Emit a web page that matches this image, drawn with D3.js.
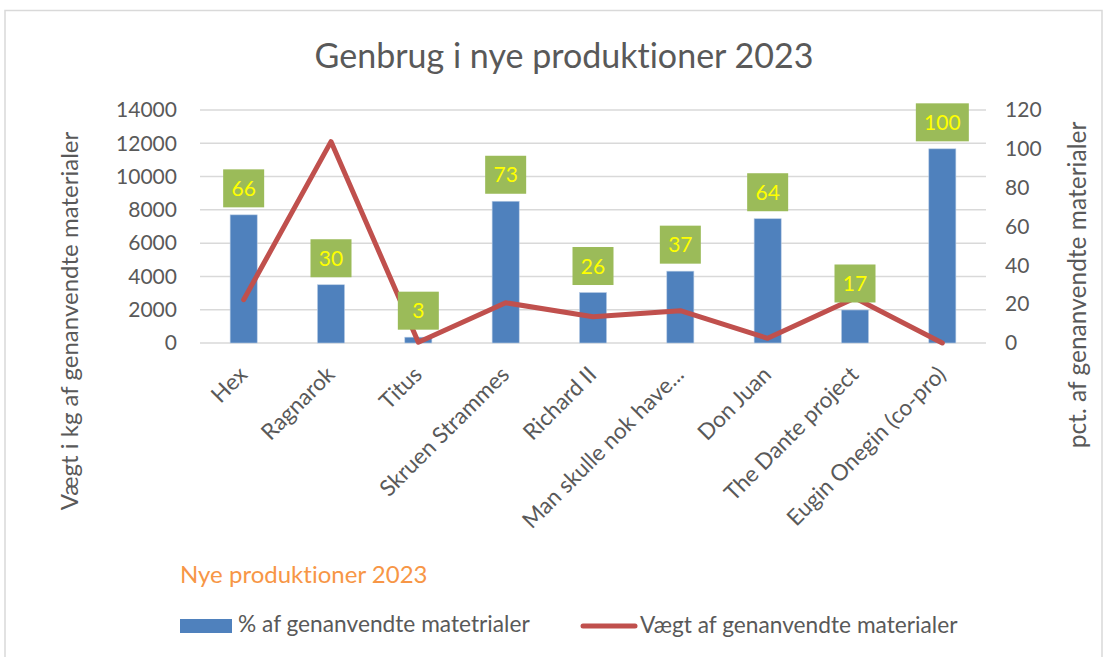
<!DOCTYPE html>
<html><head><meta charset="utf-8">
<script src="https://cdn.jsdelivr.net/npm/d3@7"></script>
<style>body{margin:0;background:#fff;}svg{display:block;font-family:Lato,"Open Sans",sans-serif;}svg text{font-variant-ligatures:none;font-feature-settings:"liga" 0,"clig" 0,"dlig" 0;letter-spacing:0.01px;}</style>
</head><body>
<svg id="c" width="1105" height="657"></svg>
<script>
const categories = ["Hex","Ragnarok","Titus","Skruen Strammes","Richard II","Man skulle nok have...","Don Juan","The Dante project","Eugin Onegin (co-pro)"];
const pctValues = [66,30,3,73,26,37,64,17,100];
const weightValues = [2600,12100,50,2420,1580,1940,280,2700,0];
const leftTicks = [0,2000,4000,6000,8000,10000,12000,14000];
const rightTicks = [0,20,40,60,80,100,120];
const title = "Genbrug i nye produktioner 2023";
const leftTitle = "Vægt i kg af genanvendte materialer";
const rightTitle = "pct. af genanvendte materialer";
const legendTitle = "Nye produktioner 2023";
const barName = "% af genanvendte matetrialer";
const lineName = "Vægt af genanvendte materialer";

const svg = d3.select("#c");
const L=200, R=986, T=110, B=343;
const grey="#595959";
const FF="Lato,'Open Sans',sans-serif";

svg.append("rect").attr("x",5).attr("y",10.5).attr("width",1097).attr("height",660)
  .attr("fill","#fff").attr("stroke","#D9D9D9").attr("stroke-width",1.5);

const x = d3.scaleBand().domain(categories).range([L,R]).paddingInner(0.69).paddingOuter(0.345);
const yL = d3.scaleLinear().domain([0,14000]).range([B,T]);
const yR = d3.scaleLinear().domain([0,120]).range([B,T]);

// gridlines
svg.append("g").selectAll("line").data(leftTicks).join("line")
  .attr("x1",L).attr("x2",R).attr("y1",d=>yL(d)).attr("y2",d=>yL(d))
  .attr("stroke","#D9D9D9").attr("stroke-width",1.5);

// axes
const gl = svg.append("g").attr("transform",`translate(${L-23},0)`)
  .call(d3.axisLeft(yL).tickValues(leftTicks).tickSize(0).tickPadding(0).tickFormat(d3.format("d")));
gl.select(".domain").remove();
gl.selectAll("text").attr("fill",grey).style("font-size","21px").style("font-family",FF);

const gr = svg.append("g").attr("transform",`translate(${R+19},0)`)
  .call(d3.axisRight(yR).tickValues(rightTicks).tickSize(0).tickPadding(0));
gr.select(".domain").remove();
gr.selectAll("text").attr("fill",grey).style("font-size","21px").style("font-family",FF);

// bars
svg.append("g").selectAll("rect").data(pctValues).join("rect")
  .attr("x",(d,i)=>x(categories[i])).attr("width",x.bandwidth())
  .attr("y",d=>yR(d)).attr("height",d=>B-yR(d))
  .attr("fill","#4F81BD").attr("stroke","#B8CCE4").attr("stroke-width",0.6);

// line
const line = d3.line().x((d,i)=>x(categories[i])+x.bandwidth()/2).y(d=>yL(d));
svg.append("path").datum(weightValues).attr("d",line)
  .attr("fill","none").attr("stroke","#C0504D").attr("stroke-width",5).attr("stroke-linejoin","round").attr("stroke-linecap","round");

// data labels
const lg = svg.append("g").selectAll("g").data(pctValues).join("g");
lg.each(function(d,i){
  const g=d3.select(this);
  const cx=x(categories[i])+x.bandwidth()/2;
  const w = String(d).length>2?53:41;
  const h=38;
  const yb=yR(d)-7.5;
  g.append("rect").attr("x",cx-w/2).attr("y",yb-h).attr("width",w).attr("height",h).attr("fill","#9BBB59");
  g.append("text").attr("x",cx).attr("y",yb-h/2+7.5).attr("text-anchor","middle")
   .attr("fill","#FFFF00").style("font-size","21px").text(d);
});

// x labels
svg.append("g").selectAll("text").data(categories).join("text")
  .attr("transform",d=>`translate(${x(d)+x.bandwidth()/2+5},${B+33}) rotate(-45)`)
  .attr("text-anchor","end").attr("fill",grey).style("font-size","22.5px").text(d=>d);

// titles
svg.append("text").attr("x",564).attr("y",68).attr("text-anchor","middle").attr("fill",grey)
  .style("font-size","34px").text(title);
svg.append("text").attr("transform","translate(78,321) rotate(-90)").attr("text-anchor","middle")
  .attr("fill",grey).style("font-size","24px").text(leftTitle);
svg.append("text").attr("transform","translate(1086,285) rotate(-90)").attr("text-anchor","middle")
  .attr("fill",grey).style("font-size","24.5px").text(rightTitle);

// legend
svg.append("text").attr("x",180).attr("y",583).attr("fill","#F79646").style("font-size","24px").text(legendTitle);
svg.append("rect").attr("x",180).attr("y",619).attr("width",52).attr("height",14).attr("fill","#4F81BD");
svg.append("text").attr("x",238).attr("y",632).attr("fill",grey).style("font-size","22.7px").text(barName);
svg.append("line").attr("x1",583).attr("x2",635).attr("y1",626).attr("y2",626)
  .attr("stroke","#C0504D").attr("stroke-width",5).attr("stroke-linecap","round");
svg.append("text").attr("x",640).attr("y",633).attr("fill",grey).style("font-size","22.7px").text(lineName);
</script>
</body></html>
